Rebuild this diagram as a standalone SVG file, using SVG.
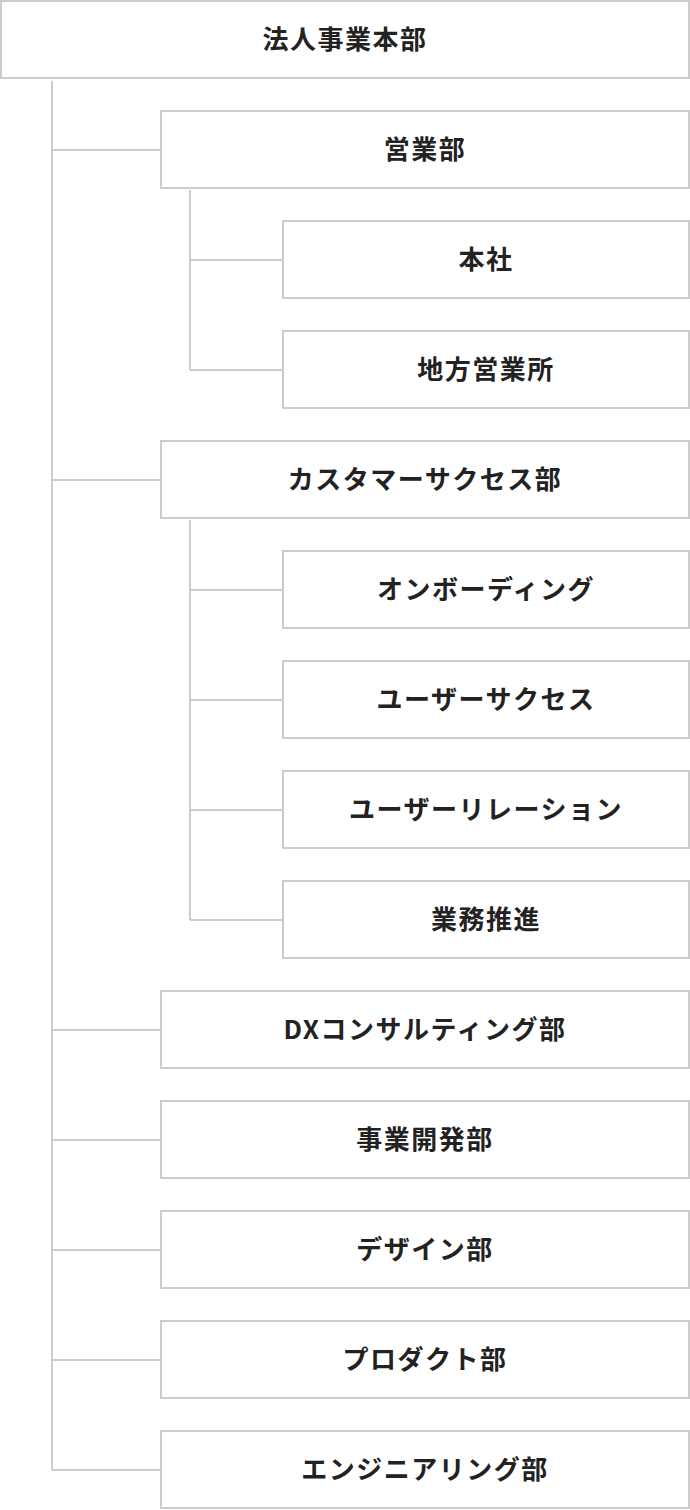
<svg xmlns="http://www.w3.org/2000/svg" width="690" height="1510" viewBox="0 0 690 1510">
<style>
.box{fill:#fff;stroke:#cccccc;stroke-width:2}
.lbl{font-family:"Noto Sans CJK JP","Noto Sans",sans-serif;font-weight:700;font-size:26px;letter-spacing:1.5px;fill:#222;text-anchor:middle}
.ln{fill:none;stroke:#cccccc;stroke-width:2}
</style>
<rect width="690" height="1510" fill="#fff"/>
<g id="connectors">
<path class="ln" d="M52 81V1470"/>
<path class="ln" d="M52 150H160M52 480H160M52 1030H160M52 1140H160M52 1250H160M52 1360H160M52 1470H160"/>
<path class="ln" d="M190 190V370M190 260H282M190 370H282"/>
<path class="ln" d="M190 520V920M190 590H282M190 700H282M190 810H282M190 920H282"/>
</g>
<g id="n-root"><rect class="box" x="1" y="1" width="688" height="77"/><text class="lbl" x="345" y="48.8">法人事業本部</text></g>
<g id="n-sales"><rect class="box" x="161" y="111" width="528" height="77"/><text class="lbl" x="425" y="158.8">営業部</text></g>
<g id="n-hq"><rect class="box" x="283" y="221" width="406" height="77"/><text class="lbl" x="486" y="268.8">本社</text></g>
<g id="n-regional"><rect class="box" x="283" y="331" width="406" height="77"/><text class="lbl" x="486" y="378.8">地方営業所</text></g>
<g id="n-cs"><rect class="box" x="161" y="441" width="528" height="77"/><text class="lbl" x="425" y="488.8">カスタマーサクセス部</text></g>
<g id="n-onboarding"><rect class="box" x="283" y="551" width="406" height="77"/><text class="lbl" x="486" y="598.8">オンボーディング</text></g>
<g id="n-usersuccess"><rect class="box" x="283" y="661" width="406" height="77"/><text class="lbl" x="486" y="708.8">ユーザーサクセス</text></g>
<g id="n-userrelation"><rect class="box" x="283" y="771" width="406" height="77"/><text class="lbl" x="486" y="818.8">ユーザーリレーション</text></g>
<g id="n-bizpromo"><rect class="box" x="283" y="881" width="406" height="77"/><text class="lbl" x="486" y="928.8">業務推進</text></g>
<g id="n-dx"><rect class="box" x="161" y="991" width="528" height="77"/><text class="lbl" x="425" y="1038.8">DXコンサルティング部</text></g>
<g id="n-bizdev"><rect class="box" x="161" y="1101" width="528" height="77"/><text class="lbl" x="425" y="1148.8">事業開発部</text></g>
<g id="n-design"><rect class="box" x="161" y="1211" width="528" height="77"/><text class="lbl" x="425" y="1258.8">デザイン部</text></g>
<g id="n-product"><rect class="box" x="161" y="1321" width="528" height="77"/><text class="lbl" x="425" y="1368.8">プロダクト部</text></g>
<g id="n-eng"><rect class="box" x="161" y="1431" width="528" height="77"/><text class="lbl" x="425" y="1478.8">エンジニアリング部</text></g>
</svg>
